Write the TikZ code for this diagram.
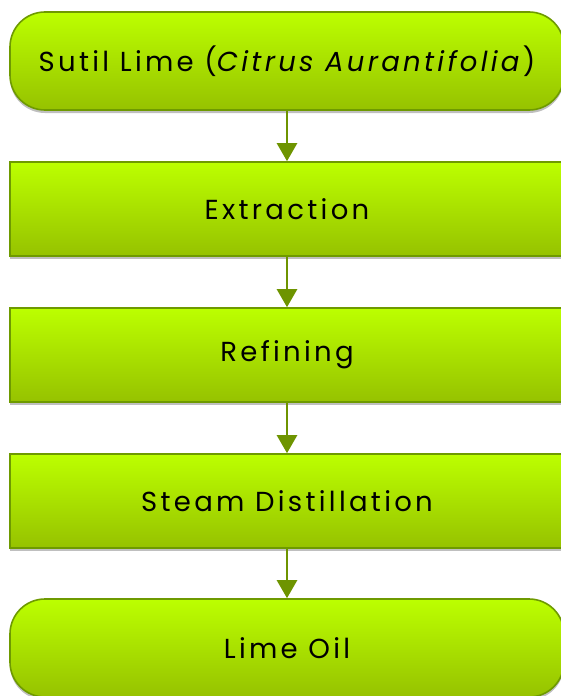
\documentclass[tikz,border=0pt]{standalone}
\usepackage{fontspec}
\setmainfont{Poppins}[LetterSpace=12]
\usetikzlibrary{arrows.meta}
\definecolor{limetop}{HTML}{BCFF00}
\definecolor{limebot}{HTML}{96C200}
\definecolor{limeedge}{HTML}{6E9A00}
\definecolor{arrowc}{HTML}{6E9400}
\tikzset{
  x=1pt, y=-1pt,
  boxbase/.style={draw=limeedge, line width=1.6pt, top color=limetop, bottom color=limebot,
    minimum width=554pt, inner sep=0pt, font=\fontsize{27.5}{31}\selectfont,
    preaction={fill=black, fill opacity=0.25, transform canvas={yshift=-3pt}}},
  roundbox/.style={boxbase, rounded corners=35pt, minimum height=98pt},
  sqbox/.style={boxbase, minimum height=94pt},
  flow/.style={draw=arrowc, line width=2.6pt, -{Triangle[width=20pt,length=18pt]}}
}
\begin{document}
\begin{tikzpicture}
\useasboundingbox (0,0) rectangle (560,696);
\node[roundbox] (a) at (287,61) {Sutil Lime (\textit{Citrus Aurantifolia})};
\node[sqbox] (b) at (287,209) {Extraction};
\node[sqbox] (c) at (287,355) {Refining};
\node[sqbox] (d) at (287,501) {Steam Distillation};
\node[roundbox] (e) at (287,648) {Lime Oil};
\draw[flow] (a) -- (b);
\draw[flow] (b) -- (c);
\draw[flow] (c) -- (d);
\draw[flow] (d) -- (e);
\end{tikzpicture}
\end{document}
